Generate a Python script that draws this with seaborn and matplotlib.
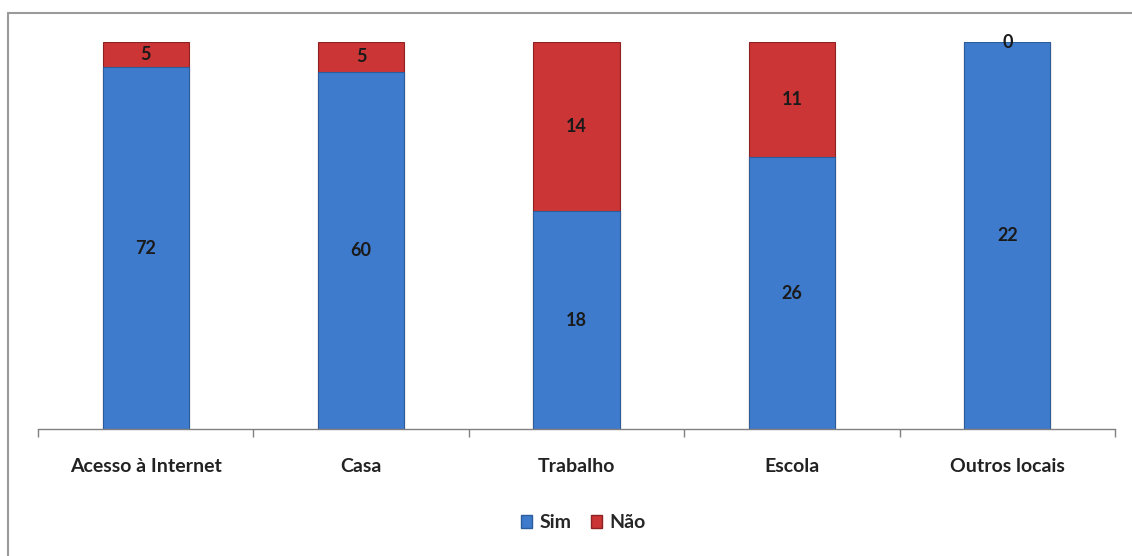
import matplotlib
matplotlib.use("Agg")
import matplotlib.pyplot as plt
import matplotlib.lines as mlines
import matplotlib.patches as mpatches
import seaborn as sns
import pandas as pd
import numpy as np

categories = ["Acesso à Internet", "Casa", "Trabalho", "Escola", "Outros locais"]
sim = [72, 60, 18, 26, 22]
nao = [5, 5, 14, 11, 0]

sns.set_theme(style="white")
plt.rcParams['font.family'] = ['Lato', 'DejaVu Sans']

total = [s + n for s, n in zip(sim, nao)]
sim_pct = [100 * s / t for s, t in zip(sim, total)]
df = pd.DataFrame({"cat": categories, "sim_pct": sim_pct, "total": [100.0] * len(categories)})

fig = plt.figure(figsize=(11.32, 5.56), dpi=100)
ax = fig.add_axes([38 / 1132, (556 - 429) / 556, (1115 - 38) / 1132, (429 - 42) / 556])

blue = "#3f7bcc"
red = "#cb3535"
sns.barplot(data=df, x="cat", y="total", color=red, width=0.4, ax=ax,
            edgecolor="#8e2222", linewidth=0.8, saturation=1)
sns.barplot(data=df, x="cat", y="sim_pct", color=blue, width=0.4, ax=ax,
            edgecolor="#2b5c9c", linewidth=0.8, saturation=1)

for i in range(len(categories)):
    ax.text(i, sim_pct[i] / 2, str(sim[i]), ha="center", va="center",
            fontsize=13, fontweight="bold", color="#1a1a1a")
    if nao[i] > 0:
        ymid = (sim_pct[i] + 100) / 2
    else:
        ymid = 100
    ax.text(i, ymid, str(nao[i]), ha="center", va="center",
            fontsize=13, fontweight="bold", color="#1a1a1a")

ax.set_xlim(-0.5, len(categories) - 0.5)
ax.set_ylim(0, 100)
ax.set_xlabel("")
ax.set_ylabel("")
ax.set_yticks([])
for s in ["top", "right", "left"]:
    ax.spines[s].set_visible(False)
ax.spines["bottom"].set_color("#808080")
ax.spines["bottom"].set_linewidth(1.0)
ax.set_xticks(range(len(categories)))
ax.set_xticklabels(categories, fontsize=14, fontweight="bold", color="#222222")
ax.tick_params(axis="x", which="major", length=0, pad=21)
ax.set_xticks(np.arange(-0.5, len(categories), 1.0), minor=True)
ax.tick_params(axis="x", which="minor", length=6, width=1.0, color="#808080", direction="out", bottom=True)

handles = [mpatches.Patch(facecolor=blue, edgecolor="#2b5c9c", label="Sim"),
           mpatches.Patch(facecolor=red, edgecolor="#8e2222", label="Não")]
fig.legend(handles=handles, loc="center", bbox_to_anchor=(583 / 1132, 1 - 523 / 556),
           ncol=2, frameon=False, handlelength=0.6, handleheight=0.6,
           handletextpad=0.35, columnspacing=1.0, prop={"weight": "bold", "size": 14})

fig.add_artist(mlines.Line2D([8 / 1132, 8 / 1132], [0, 1 - 13 / 556], transform=fig.transFigure,
                             color="#9a9a9a", linewidth=1.5))
fig.add_artist(mlines.Line2D([8 / 1132, 1.0], [1 - 13 / 556, 1 - 13 / 556], transform=fig.transFigure,
                             color="#9a9a9a", linewidth=1.5))

fig.savefig("out.png", dpi=100)
